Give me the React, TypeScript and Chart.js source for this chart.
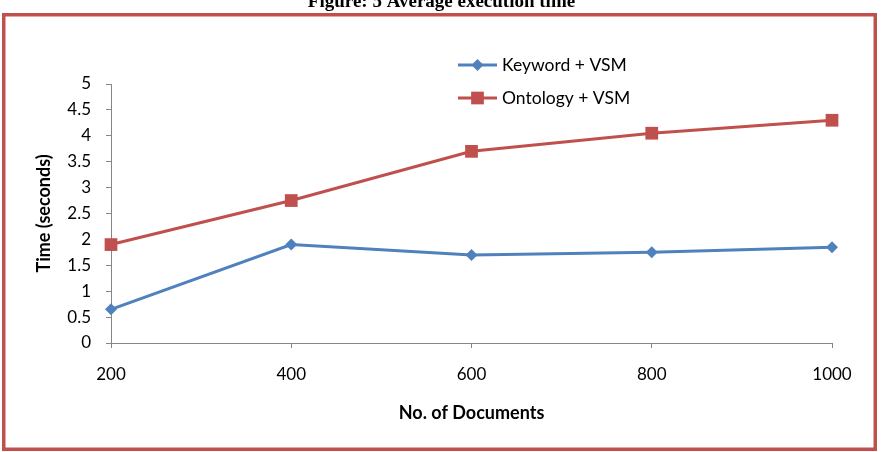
import { useEffect, useRef } from "react";
import { Chart, registerables } from "chart.js";

Chart.register(...registerables);

// Number of documents on the x axis
const documentCounts = ["200", "400", "600", "800", "1000"];
// Average execution time in seconds
const keywordVsm = [0.65, 1.9, 1.7, 1.75, 1.85];
const ontologyVsm = [1.9, 2.75, 3.7, 4.05, 4.3];

const seriesNames = ["Keyword + VSM", "Ontology + VSM"];
const figureTitle = "Figure: 5 Average execution time";
const xAxisTitle = "No. of Documents";
const yAxisTitle = "Time (seconds)";

const BLUE = "#4f81bd";
const RED = "#c0504d";
const AXIS = "#868686";
const FONT = "Lato, 'Open Sans', sans-serif";

function drawMarker(
  ctx: CanvasRenderingContext2D,
  style: string,
  x: number,
  y: number,
  r: number,
  color: string
) {
  ctx.fillStyle = color;
  ctx.beginPath();
  if (style === "rectRot") {
    ctx.moveTo(x, y - r);
    ctx.lineTo(x + r, y);
    ctx.lineTo(x, y + r);
    ctx.lineTo(x - r, y);
    ctx.closePath();
  } else {
    const s = r * Math.SQRT1_2;
    ctx.rect(x - s, y - s, 2 * s, 2 * s);
  }
  ctx.fill();
}

// Frame, figure caption and the stacked legend beside the top of the plot
const decorations = {
  id: "decorations",
  afterDraw(chart: any) {
    const { ctx, chartArea, width } = chart;
    ctx.save();

    ctx.strokeStyle = RED;
    ctx.lineWidth = 3.5;
    ctx.strokeRect(3.75, 14.75, 871.5, 434.5);

    ctx.fillStyle = "#000";
    ctx.font = "bold 19px 'Liberation Serif', 'Times New Roman', serif";
    ctx.textAlign = "center";
    ctx.textBaseline = "alphabetic";
    ctx.fillText(figureTitle, width / 2, 7);

    chart.data.datasets.forEach((ds: any, i: number) => {
      const y = chartArea.top - 19 + i * 33;
      const x0 = chartArea.left + 347;
      const x1 = chartArea.left + 386;
      ctx.strokeStyle = ds.borderColor;
      ctx.lineWidth = 3;
      ctx.beginPath();
      ctx.moveTo(x0, y);
      ctx.lineTo(x1, y);
      ctx.stroke();
      drawMarker(ctx, ds.pointStyle, (x0 + x1) / 2, y, ds.pointRadius, ds.backgroundColor);
      ctx.fillStyle = "#000";
      ctx.font = `17.5px ${FONT}`;
      ctx.textAlign = "left";
      ctx.textBaseline = "middle";
      ctx.fillText(ds.label, chartArea.left + 391, y);
    });

    ctx.restore();
  },
};

export default function App() {
  const canvasRef = useRef<HTMLCanvasElement | null>(null);

  useEffect(() => {
    const canvas = canvasRef.current;
    if (!canvas) return;
    const chart = new Chart(canvas, {
      type: "line",
      data: {
        labels: documentCounts,
        datasets: [
          {
            label: seriesNames[0],
            data: keywordVsm,
            borderColor: BLUE,
            backgroundColor: BLUE,
            borderWidth: 3,
            pointStyle: "rectRot",
            pointRadius: 6,
            pointBorderWidth: 0,
            pointHoverRadius: 6,
          },
          {
            label: seriesNames[1],
            data: ontologyVsm,
            borderColor: RED,
            backgroundColor: RED,
            borderWidth: 3,
            pointStyle: "rect",
            pointRadius: 9,
            pointBorderWidth: 0,
            pointHoverRadius: 9,
          },
        ],
      },
      options: {
        responsive: false,
        animation: false,
        layout: { padding: { left: 30, top: 84, right: 51, bottom: 20 } },
        plugins: {
          legend: { display: false },
          tooltip: { enabled: false },
          title: { display: false },
        },
        scales: {
          x: {
            type: "category",
            offset: false,
            grid: {
              display: true,
              drawOnChartArea: false,
              drawTicks: true,
              tickLength: 5,
              color: AXIS,
              offset: false,
            },
            border: { display: true, color: AXIS, width: 1 },
            ticks: {
              color: "#000",
              font: { family: FONT, size: 17 },
              padding: 16,
              maxRotation: 0,
              autoSkip: false,
            },
            title: {
              display: true,
              text: xAxisTitle,
              color: "#000",
              font: { family: FONT, size: 18, weight: "bold" },
              padding: { top: 0, bottom: 8 },
            },
            afterFit(scale: any) {
              scale.height = 89;
            },
          },
          y: {
            min: 0,
            max: 5,
            grid: {
              display: true,
              drawOnChartArea: false,
              drawTicks: true,
              tickLength: 5,
              color: AXIS,
            },
            border: { display: true, color: AXIS, width: 1 },
            ticks: {
              stepSize: 0.5,
              color: "#000",
              font: { family: FONT, size: 17 },
              padding: 15,
              callback: (value: any) => String(Number(value)),
            },
            title: {
              display: true,
              text: yAxisTitle,
              color: "#000",
              font: { family: FONT, size: 18, weight: "bold" },
              padding: { top: 3, bottom: 0 },
            },
            afterFit(scale: any) {
              scale.width = 81;
            },
          },
        },
      },
      plugins: [decorations],
    });
    return () => chart.destroy();
  }, []);

  return (
    <div style={{ position: "absolute", left: 0, top: 0, width: 883, height: 452, background: "#fff" }}>
      <canvas ref={canvasRef} width={883} height={452} style={{ display: "block" }} />
    </div>
  );
}
